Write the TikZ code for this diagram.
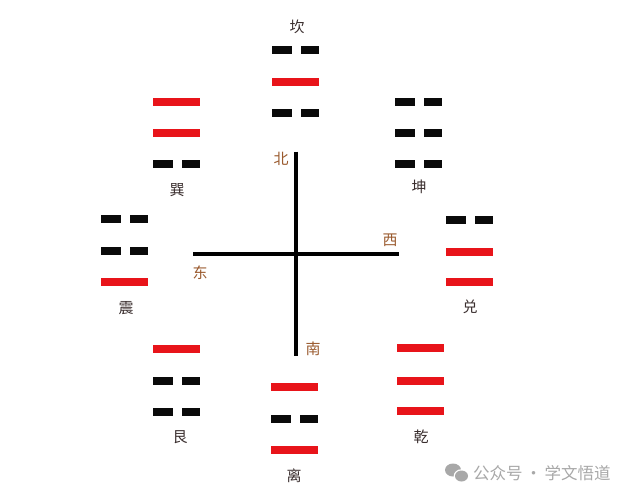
\documentclass[tikz,border=0pt]{standalone}
\usepackage{fontspec}
\newfontfamily\cjk{Noto Sans CJK SC}
\definecolor{yangred}{HTML}{E8141A}
\definecolor{yinblack}{HTML}{0A0A0A}
\definecolor{namecol}{HTML}{3A2E2E}
\definecolor{dircol}{HTML}{9A5A2E}
\definecolor{wmgray}{HTML}{A8A8A8}
\newcommand\yangbar[2]{\fill[yangred] (#1,#2-4) rectangle (#1+47,#2+4);}
\newcommand\yinbar[2]{\fill[yinblack] (#1,#2-4) rectangle (#1+20,#2+4); \fill[yinblack] (#1+29,#2-4) rectangle (#1+47,#2+4);}
\tikzset{
  trigname/.style={font=\cjk\fontsize{15}{15}\selectfont, text=namecol, inner sep=0pt},
  dirname/.style={font=\cjk\fontsize{15}{15}\selectfont, text=dircol, inner sep=0pt},
  axis/.style={line width=4pt, draw=black},
}
\begin{document}
\begin{tikzpicture}[x=1pt,y=-1pt]
\useasboundingbox[fill=white] (0,0) rectangle (640,499);
% Kan
\yinbar{272}{50} \yangbar{272}{82} \yinbar{272}{113}
% Xun
\yangbar{153}{101.7} \yangbar{153}{133} \yinbar{153}{164}
% Kun
\yinbar{395}{101.7} \yinbar{395}{133} \yinbar{395}{164}
% Zhen
\yinbar{101}{219} \yinbar{101}{251} \yangbar{101}{282}
% Dui
\yinbar{446}{220} \yangbar{446}{252} \yangbar{446}{282}
% Gen
\yangbar{153}{349} \yinbar{153}{381} \yinbar{153}{412}
% Li
\yangbar{271}{387} \yinbar{271}{419} \yangbar{271}{450}
% Qian
\yangbar{397}{348} \yangbar{397}{380.5} \yangbar{397}{411}
% cross
\coordinate (ntop) at (296,151.7);
\coordinate (sbot) at (296,355.7);
\coordinate (eleft) at (193,254);
\coordinate (wright) at (399,254);
\draw[axis] (ntop) -- (sbot);
\draw[axis] (eleft) -- (wright);
% trigram names
\node[trigname] (kan) at (297,27) {坎};
\node[trigname] (xun) at (177,190) {巽};
\node[trigname] (kun) at (419,187) {坤};
\node[trigname] (zhen) at (126,308) {震};
\node[trigname] (dui) at (470,307) {兑};
\node[trigname] (gen) at (180,437) {艮};
\node[trigname] (li) at (294,476) {离};
\node[trigname] (qian) at (421,437) {乾};
% directions
\node[dirname] (bei) at (281,159) {北};
\node[dirname] (dong) at (200,273) {东};
\node[dirname] (xi) at (390,240) {西};
\node[dirname] (nan) at (313,349) {南};
% watermark
\fill[wmgray] (453,470) ellipse [x radius=8, y radius=6.5];
\fill[white] (461.5,476) ellipse [x radius=7.8, y radius=6.8];
\fill[wmgray] (461.5,476) ellipse [x radius=6.5, y radius=5.5];
\node[font=\cjk\fontsize{16.5}{16.5}\selectfont, text=wmgray, inner sep=0pt, anchor=west] (wm) at (473,473) {公众号\,·\,学文悟道};
\end{tikzpicture}
\end{document}
